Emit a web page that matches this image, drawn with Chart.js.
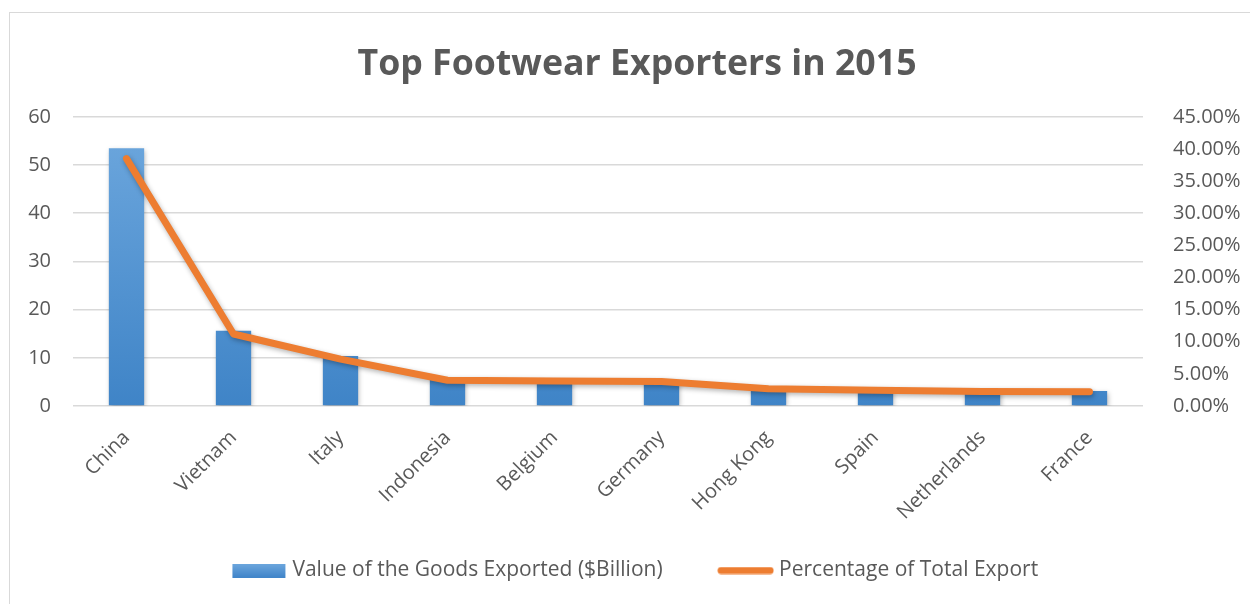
<!DOCTYPE html>
<html lang="en">
<head>
<meta charset="UTF-8">
<title>Top Footwear Exporters in 2015</title>
<script src="https://cdn.jsdelivr.net/npm/chart.js"></script>
<style>
  html, body { margin: 0; padding: 0; background: #fff; }
  #wrap { position: relative; width: 1250px; height: 604px; overflow: hidden; }
  #frame { position: absolute; left: 9px; top: 12px; width: 1260px; height: 620px; border: 1px solid #d9d9d9; box-sizing: border-box; }
  #c { position: absolute; left: 0; top: 0; }
</style>
</head>
<body>
<div id="wrap">
  <div id="frame"></div>
  <canvas id="c" width="1250" height="604"></canvas>
</div>
<script>
const countries = ['China', 'Vietnam', 'Italy', 'Indonesia', 'Belgium', 'Germany', 'Hong Kong', 'Spain', 'Netherlands', 'France'];
const valueBillion = [53.5, 15.6, 10.4, 5.5, 5.4, 5.3, 3.8, 3.4, 3.1, 3.1];
const sharePct = [38.5, 11.2, 7.3, 4.0, 3.9, 3.8, 2.7, 2.45, 2.25, 2.2];
const leftTicks = [0, 10, 20, 30, 40, 50, 60];
const rightTicks = [0, 5, 10, 15, 20, 25, 30, 35, 40, 45];

const grey = '#595959';
const orange = '#ED7D31';
const fontFam = 'Open Sans';

// legend markers (57px wide canvases, drawn centred in the legend box)
function marker(w, h, draw) {
  const cv = document.createElement('canvas');
  cv.width = w; cv.height = h;
  draw(cv.getContext('2d'));
  return cv;
}
const barMark = marker(57, 14, g => {
  const gr = g.createLinearGradient(0, 0, 0, 14);
  gr.addColorStop(0, '#6ea8de');
  gr.addColorStop(1, '#4085c9');
  g.fillStyle = gr;
  g.fillRect(2, 0, 53, 14);
});
const lineMark = marker(57, 8, g => {
  g.strokeStyle = orange;
  g.lineWidth = 7;
  g.lineCap = 'round';
  g.beginPath(); g.moveTo(4, 4); g.lineTo(53, 4); g.stroke();
});

function barFill(ctx) {
  const ch = ctx.chart;
  const a = ch.chartArea;
  if (!a) return '#5b9bd5';
  const gr = ch.ctx.createLinearGradient(0, a.top, 0, a.bottom);
  gr.addColorStop(0, '#6ea8de');
  gr.addColorStop(1, '#3f84c7');
  return gr;
}

const shadow = {
  id: 'shadow',
  beforeDatasetDraw(chart) {
    const c = chart.ctx;
    c.save();
    c.shadowColor = 'rgba(0,0,0,0.3)';
    c.shadowBlur = 5;
    c.shadowOffsetX = 1;
    c.shadowOffsetY = 2;
  },
  afterDatasetDraw(chart) { chart.ctx.restore(); }
};

new Chart(document.getElementById('c'), {
  data: {
    labels: countries,
    datasets: [
      {
        type: 'line',
        label: 'Percentage of Total Export',
        data: sharePct,
        yAxisID: 'y1',
        borderColor: orange,
        backgroundColor: orange,
        borderWidth: 7,
        borderCapStyle: 'round',
        borderJoinStyle: 'round',
        pointRadius: 0,
        tension: 0,
        order: 0,
        pointStyle: lineMark
      },
      {
        type: 'bar',
        label: 'Value of the Goods Exported ($Billion)',
        data: valueBillion,
        yAxisID: 'y',
        backgroundColor: barFill,
        categoryPercentage: 1,
        barPercentage: 0.33,
        order: 1,
        pointStyle: barMark
      }
    ]
  },
  plugins: [shadow],
  options: {
    responsive: false,
    animation: false,
    layout: { padding: { left: 24, right: 0, top: 0, bottom: 13 } },
    plugins: {
      title: {
        display: true,
        text: 'Top Footwear Exporters in 2015',
        color: grey,
        font: { family: fontFam, size: 35.7, weight: 'bold' },
        padding: { top: 43, bottom: 31 }
      },
      legend: {
        position: 'bottom',
        reverse: true,
        labels: {
          usePointStyle: true,
          pointStyleWidth: 46,
          boxHeight: 14,
          padding: 18,
          color: grey,
          font: { family: fontFam, size: 21 },
          generateLabels(chart) {
            const items = Chart.defaults.plugins.legend.labels.generateLabels(chart);
            items.forEach(it => { if (it.datasetIndex === 1) it.text += '\u2003\u2003'; });
            return items;
          }
        }
      },
      tooltip: { enabled: false }
    },
    scales: {
      x: {
        grid: { display: false },
        border: { display: false },
        afterFit(s) { s.height = 136; },
        ticks: {
          color: grey,
          font: { family: fontFam, size: 20 },
          minRotation: 45,
          maxRotation: 45,
          padding: 12
        }
      },
      y: {
        position: 'left',
        min: 0,
        max: 60,
        afterBuildTicks(s) { s.ticks = leftTicks.map(v => ({ value: v })); },
        afterFit(s) { s.width = 49; },
        grid: { color: '#d9d9d9', lineWidth: 1.5, drawTicks: false },
        border: { display: false },
        ticks: { color: grey, font: { family: fontFam, size: 20 }, padding: 22 }
      },
      y1: {
        position: 'right',
        min: 0,
        max: 45,
        afterBuildTicks(s) { s.ticks = rightTicks.map(v => ({ value: v })); },
        afterFit(s) { s.width = 107; },
        grid: { display: false },
        border: { display: false },
        ticks: {
          color: grey,
          font: { family: fontFam, size: 20 },
          padding: 22,
          callback: v => v.toFixed(2) + '%'
        }
      }
    }
  }
});
</script>
</body>
</html>
